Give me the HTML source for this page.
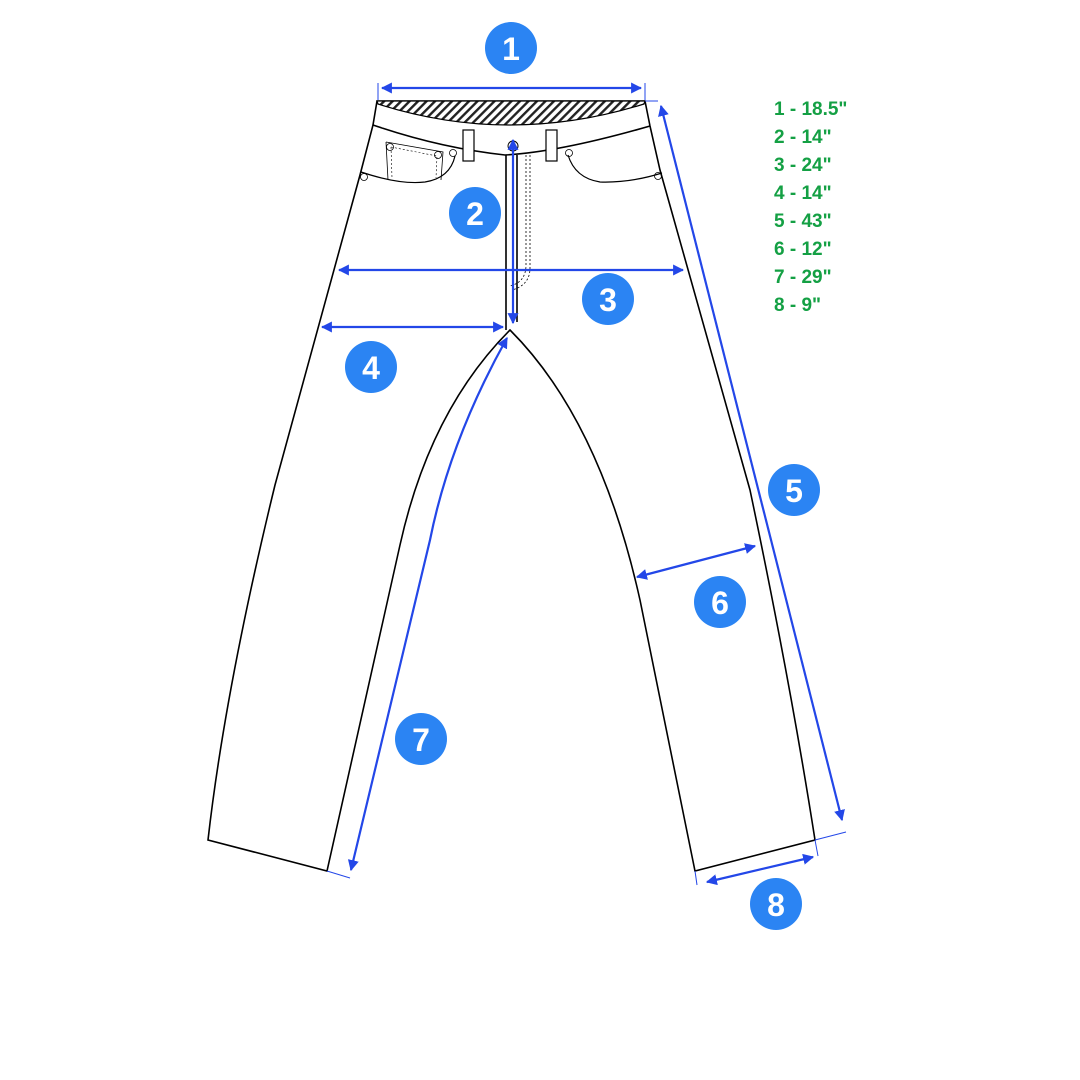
<!DOCTYPE html>
<html><head><meta charset="utf-8"><style>
html,body{margin:0;padding:0;background:#fff;width:1080px;height:1080px;overflow:hidden}
</style></head><body>
<svg width="1080" height="1080" viewBox="0 0 1080 1080" xmlns="http://www.w3.org/2000/svg">
<defs>
<pattern id="h" width="6" height="6" patternUnits="userSpaceOnUse" patternTransform="rotate(45)">
<rect width="6" height="6" fill="#fff"/><rect width="2.4" height="6" fill="#222"/></pattern>
<marker id="a" viewBox="0 0 10 10" refX="9" refY="5" markerWidth="5" markerHeight="5" orient="auto-start-reverse">
<path d="M0,0 L10,5 L0,10 z" fill="#2347e8"/></marker>
</defs>
<g fill="none" stroke="#000" stroke-width="1.6">
<path d="M377,101 L645,101 L650,126 L660,170 L750,490 Q790,680 815,840 L695,871 L640,600 Q600,420 510,330 Q430,410 400,545 L327,871 L208,840 Q225,690 275,485 L360,175 L373,125 Z" fill="#fff"/>
<path d="M377,101 L645,101 L644,104 Q510,146 378,104 Z" fill="url(#h)" stroke-width="1.2"/>
<path d="M373,125 Q440,148 505,155 Q560,152 650,126"/>
<rect x="463" y="130" width="11" height="31" fill="#fff" stroke-width="1.2"/>
<rect x="546" y="130" width="11" height="31" fill="#fff" stroke-width="1.2"/>
<path d="M506,155 L506,330 M517,155 L517,322"/>
<path d="M530,155 L530,268 Q530,285 512,290 M526,155 L526,265 Q526,282 510,286" stroke-width="0.8" stroke-dasharray="2,2"/>
<circle cx="513" cy="146" r="5" stroke-width="1"/>
<path d="M361,172 Q400,185 425,182 Q450,178 455,156" stroke-width="1.2"/>
<path d="M568,155 Q575,178 600,182 Q630,183 662,173" stroke-width="1.2"/>
<path d="M386,142 L388,180 M386,142 L443,152 L441,180" stroke-width="0.8"/>
<path d="M391,147 L392,178 M391,147 L437,156 L436,178" stroke-width="0.6" stroke-dasharray="2,2"/>
<circle cx="390" cy="147" r="3.5" stroke-width="0.8"/><circle cx="438" cy="155" r="3.5" stroke-width="0.8"/>
<circle cx="453" cy="153" r="3.5" stroke-width="0.8"/><circle cx="364" cy="177" r="3.5" stroke-width="0.8"/>
<circle cx="569" cy="153" r="3.5" stroke-width="0.8"/><circle cx="658" cy="176" r="3.5" stroke-width="0.8"/>
</g>
<g stroke="#2347e8" stroke-width="2.2" fill="none">
<line x1="382" y1="88" x2="641" y2="88" marker-start="url(#a)" marker-end="url(#a)"/>
<line x1="378" y1="83" x2="378" y2="100" stroke-width="1"/><line x1="645" y1="83" x2="645" y2="100" stroke-width="1"/>
<line x1="513" y1="140" x2="513" y2="323" marker-start="url(#a)" marker-end="url(#a)"/>
<line x1="339" y1="270" x2="683" y2="270" marker-start="url(#a)" marker-end="url(#a)"/>
<line x1="322" y1="327" x2="503" y2="327" marker-start="url(#a)" marker-end="url(#a)"/>
<line x1="661" y1="106" x2="842" y2="820" marker-start="url(#a)" marker-end="url(#a)"/>
<line x1="645" y1="101" x2="658" y2="101" stroke-width="1"/><line x1="815" y1="840" x2="846" y2="832" stroke-width="1"/>
<line x1="637" y1="577" x2="755" y2="546" marker-start="url(#a)" marker-end="url(#a)"/>
<path d="M507,338 Q450,440 430,540 L351,870" marker-start="url(#a)" marker-end="url(#a)"/>
<line x1="327" y1="871" x2="350" y2="878" stroke-width="1"/>
<line x1="707" y1="882" x2="813" y2="857" marker-start="url(#a)" marker-end="url(#a)"/>
<line x1="695" y1="871" x2="697" y2="885" stroke-width="1"/><line x1="815" y1="840" x2="818" y2="856" stroke-width="1"/>
</g>
<g font-family="'Liberation Sans',sans-serif" font-weight="bold" font-size="32" fill="#fff" text-anchor="middle">
<circle cx="511" cy="48" r="26" fill="#2b84f3"/><text x="511" y="60">1</text>
<circle cx="475" cy="213" r="26" fill="#2b84f3"/><text x="475" y="225">2</text>
<circle cx="608" cy="299" r="26" fill="#2b84f3"/><text x="608" y="311">3</text>
<circle cx="371" cy="367" r="26" fill="#2b84f3"/><text x="371" y="379">4</text>
<circle cx="794" cy="490" r="26" fill="#2b84f3"/><text x="794" y="502">5</text>
<circle cx="720" cy="602" r="26" fill="#2b84f3"/><text x="720" y="614">6</text>
<circle cx="421" cy="739" r="26" fill="#2b84f3"/><text x="421" y="751">7</text>
<circle cx="776" cy="904" r="26" fill="#2b84f3"/><text x="776" y="916">8</text>
</g>
<g font-family="'Liberation Sans',sans-serif" font-weight="bold" font-size="19" fill="#14a044">
<text x="774" y="115">1 - 18.5"</text>
<text x="774" y="143">2 - 14"</text>
<text x="774" y="171">3 - 24"</text>
<text x="774" y="199">4 - 14"</text>
<text x="774" y="227">5 - 43"</text>
<text x="774" y="255">6 - 12"</text>
<text x="774" y="283">7 - 29"</text>
<text x="774" y="311">8 - 9"</text>
</g>
</svg>
</body></html>
